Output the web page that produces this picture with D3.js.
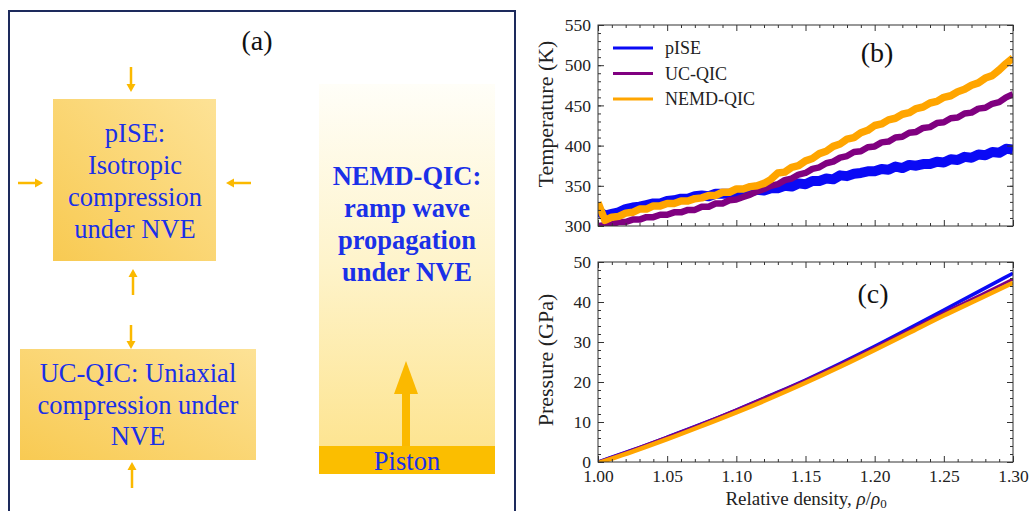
<!DOCTYPE html>
<html>
<head>
<meta charset="utf-8">
<script src="https://cdn.jsdelivr.net/npm/d3@7"></script>
<style>
    body { margin: 0; background: #fff; }
    svg { display: block; font-family: "Liberation Serif", "Times New Roman", serif; }
</style>
</head>
<body>
<div id="chart"></div>
<script>
// ---- data ----
// (b) temperature, sampled every 0.005 in relative density
const rhoT = [1.000, 1.005, 1.010, 1.015, 1.020, 1.025, 1.030, 1.035, 1.040, 1.045,
              1.050, 1.055, 1.060, 1.065, 1.070, 1.075, 1.080, 1.085, 1.090, 1.095,
              1.100, 1.105, 1.110, 1.115, 1.120, 1.125, 1.130, 1.135, 1.140, 1.145,
              1.150, 1.155, 1.160, 1.165, 1.170, 1.175, 1.180, 1.185, 1.190, 1.195,
              1.200, 1.205, 1.210, 1.215, 1.220, 1.225, 1.230, 1.235, 1.240, 1.245,
              1.250, 1.255, 1.260, 1.265, 1.270, 1.275, 1.280, 1.285, 1.290, 1.295, 1.300];
const tPISE = [319, 313, 315, 317, 321, 323, 324, 326, 328, 328,
               331, 332, 334, 334, 337, 338, 337, 340, 340, 340,
               342, 342, 343, 345, 344, 347, 347, 350, 349, 353,
               352, 356, 356, 359, 358, 363, 362, 365, 366, 368,
               368, 371, 370, 374, 372, 376, 375, 377, 377, 380,
               379, 383, 382, 386, 385, 389, 388, 392, 391, 396, 395];
const tUC   = [300, 301, 302, 305, 305, 308, 308, 311, 311, 314,
               314, 317, 317, 320, 320, 324, 324, 328, 328, 332,
               333, 336, 339, 343, 346, 350, 352, 357, 359, 364,
               366, 371, 373, 378, 380, 385, 387, 392, 393, 398,
               399, 404, 405, 410, 411, 416, 417, 422, 423, 428,
               429, 434, 435, 440, 441, 446, 447, 452, 454, 460, 464];
const tNEMD = [329, 307, 311, 312, 316, 317, 321, 321, 325, 325,
               328, 328, 331, 331, 334, 335, 338, 338, 342, 342,
               346, 346, 349, 350, 353, 358, 366, 367, 373, 375,
               381, 384, 390, 393, 399, 402, 408, 410, 416, 419,
               425, 427, 432, 434, 439, 441, 446, 448, 453, 455,
               460, 462, 467, 470, 475, 478, 484, 487, 494, 502, 509];

// (c) pressure, sampled every 0.025
const rhoP  = [1.000, 1.025, 1.05, 1.075, 1.10, 1.125, 1.15, 1.175, 1.20, 1.225, 1.25, 1.275, 1.30];
const pPISE = [0, 3.0, 6.2, 9.5, 13.0, 16.7, 20.5, 24.6, 28.9, 33.4, 38.0, 42.6, 47.2];
const pUC   = [0, 3.0, 6.2, 9.5, 13.0, 16.7, 20.4, 24.4, 28.6, 32.9, 37.3, 41.5, 45.7];
const pNEMD = [-0.3, 2.6, 5.7, 9.0, 12.4, 16.0, 19.8, 23.8, 28.0, 32.3, 36.6, 40.7, 44.8];

const seriesNames = ["pISE", "UC-QIC", "NEMD-QIC"];
const seriesColors = ["#0a0af5", "#800080", "#ffa500"];

const xTickVals = [1.00, 1.05, 1.10, 1.15, 1.20, 1.25, 1.30];
const tTickVals = [300, 350, 400, 450, 500, 550];
const pTickVals = [0, 10, 20, 30, 40, 50];

// ---- svg ----
const W = 1030, H = 511;
const svg = d3.select("#chart").append("svg")
    .attr("width", W)
    .attr("height", H);

const defs = svg.append("defs");
const g1 = defs.append("linearGradient").attr("id", "boxGrad")
    .attr("x1", 0).attr("y1", 1).attr("x2", 1).attr("y2", 0);
g1.append("stop").attr("offset", 0).attr("stop-color", "#f8ca52");
g1.append("stop").attr("offset", 1).attr("stop-color", "#fde296");
const g2 = defs.append("linearGradient").attr("id", "tallGrad")
    .attr("x1", 0).attr("y1", 0).attr("x2", 0).attr("y2", 1);
g2.append("stop").attr("offset", 0).attr("stop-color", "#fffef8");
g2.append("stop").attr("offset", 0.45).attr("stop-color", "#fef4cc");
g2.append("stop").attr("offset", 1).attr("stop-color", "#fde289");

// ---- panel (a): schematic ----
const pa = svg.append("g");
const gold = "#fbb900";
const txtBlue = "#1a30e8";

pa.append("rect")
    .attr("x", 9).attr("y", 11).attr("width", 506).attr("height", 520)
    .attr("fill", "none").attr("stroke", "#1d2a5c").attr("stroke-width", 2);

pa.append("text").attr("x", 257).attr("y", 50).attr("text-anchor", "middle")
    .attr("font-size", 28).attr("fill", "#111").text("(a)");

function arrow(x1, y1, x2, y2, shaft, headL, headW) {
    const dx = x2 - x1, dy = y2 - y1, len = Math.hypot(dx, dy);
    const ux = dx / len, uy = dy / len, nx = -uy, ny = ux;
    const bx = x2 - ux * headL, by = y2 - uy * headL;
    pa.append("line")
        .attr("x1", x1).attr("y1", y1).attr("x2", bx).attr("y2", by)
        .attr("stroke", gold).attr("stroke-width", shaft);
    pa.append("polygon")
        .attr("points", [[x2, y2], [bx + nx * headW / 2, by + ny * headW / 2], [bx - nx * headW / 2, by - ny * headW / 2]].join(" "))
        .attr("fill", gold);
}

// pISE box
pa.append("rect").attr("x", 53).attr("y", 99).attr("width", 163).attr("height", 162).attr("fill", "url(#boxGrad)");
["pISE:", "Isotropic", "compression", "under NVE"].forEach((s, i) => {
    pa.append("text").attr("x", 135).attr("y", 142 + i * 32).attr("text-anchor", "middle")
        .attr("font-size", 26.5).attr("fill", txtBlue).text(s);
});
arrow(131, 67, 131, 92, 2.5, 8, 9);
arrow(18, 183, 43, 183, 2.5, 8, 9);
arrow(251, 183, 226, 183, 2.5, 8, 9);
arrow(133, 295, 133, 269, 2.5, 8, 9);

// UC-QIC box
pa.append("rect").attr("x", 20).attr("y", 349).attr("width", 236).attr("height", 111).attr("fill", "url(#boxGrad)");
["UC-QIC: Uniaxial", "compression under", "NVE"].forEach((s, i) => {
    pa.append("text").attr("x", 138).attr("y", 382 + i * 31.5).attr("text-anchor", "middle")
        .attr("font-size", 26.5).attr("fill", txtBlue).text(s);
});
arrow(131, 325, 131, 349, 2.5, 8, 9);
arrow(132, 488, 132, 462, 2.5, 8, 9);

// NEMD-QIC column
pa.append("rect").attr("x", 319).attr("y", 84).attr("width", 176).attr("height", 390).attr("fill", "url(#tallGrad)");
pa.append("rect").attr("x", 319).attr("y", 446).attr("width", 176).attr("height", 28).attr("fill", "#fbbe00");
pa.append("text").attr("x", 407).attr("y", 470).attr("text-anchor", "middle")
    .attr("font-size", 26.5).attr("fill", txtBlue).text("Piston");
["NEMD-QIC:", "ramp wave", "propagation", "under NVE"].forEach((s, i) => {
    pa.append("text").attr("x", 407).attr("y", 185 + i * 32).attr("text-anchor", "middle")
        .attr("font-size", 26.5).attr("font-weight", "bold").attr("fill", txtBlue).text(s);
});
arrow(406, 446, 406, 361, 8, 33, 24);

// ---- panels (b) and (c) ----
const x = d3.scaleLinear().domain([1.0, 1.3]).range([598, 1013]);
const yT = d3.scaleLinear().domain([300, 550]).range([226, 25]);
const yP = d3.scaleLinear().domain([0, 50]).range([462, 262]);

const xMinor = d3.range(0, 31).filter(i => i % 5 !== 0).map(i => 1 + i / 100);
const axisColor = "#333";

function drawFrame(y, majorY, minorY, showX) {
    const [bottom, top] = y.range();
    const g = svg.append("g");

    const styleAxis = sel => {
        sel.select(".domain").remove();
        sel.selectAll("line").attr("stroke", axisColor);
        sel.selectAll("text").attr("fill", "#222").attr("font-size", 17.5)
            .attr("font-family", "Liberation Serif, serif");
    };

    // bottom
    g.append("g").attr("transform", `translate(0,${bottom})`)
        .call(d3.axisBottom(x).tickValues(xTickVals).tickSizeInner(-6).tickSizeOuter(0).tickPadding(8)
            .tickFormat(showX ? d3.format(".2f") : ""))
        .call(styleAxis);
    g.append("g").attr("transform", `translate(0,${bottom})`)
        .call(d3.axisBottom(x).tickValues(xMinor).tickSizeInner(-3).tickSizeOuter(0).tickFormat(""))
        .call(styleAxis);
    // top
    g.append("g").attr("transform", `translate(0,${top})`)
        .call(d3.axisTop(x).tickValues(xTickVals).tickSizeInner(-6).tickSizeOuter(0).tickFormat(""))
        .call(styleAxis);
    g.append("g").attr("transform", `translate(0,${top})`)
        .call(d3.axisTop(x).tickValues(xMinor).tickSizeInner(-3).tickSizeOuter(0).tickFormat(""))
        .call(styleAxis);
    // left
    g.append("g").attr("transform", `translate(${x.range()[0]},0)`)
        .call(d3.axisLeft(y).tickValues(majorY).tickSizeInner(-6).tickSizeOuter(0).tickPadding(7))
        .call(styleAxis);
    g.append("g").attr("transform", `translate(${x.range()[0]},0)`)
        .call(d3.axisLeft(y).tickValues(minorY).tickSizeInner(-3).tickSizeOuter(0).tickFormat(""))
        .call(styleAxis);
    // right
    g.append("g").attr("transform", `translate(${x.range()[1]},0)`)
        .call(d3.axisRight(y).tickValues(majorY).tickSizeInner(-6).tickSizeOuter(0).tickFormat(""))
        .call(styleAxis);
    g.append("g").attr("transform", `translate(${x.range()[1]},0)`)
        .call(d3.axisRight(y).tickValues(minorY).tickSizeInner(-3).tickSizeOuter(0).tickFormat(""))
        .call(styleAxis);

    g.append("rect")
        .attr("x", x.range()[0]).attr("y", top)
        .attr("width", x.range()[1] - x.range()[0]).attr("height", bottom - top)
        .attr("fill", "none").attr("stroke", axisColor).attr("stroke-width", 1);
    return g;
}

// clip paths
defs.append("clipPath").attr("id", "clipB").append("rect")
    .attr("x", 598).attr("y", 25).attr("width", 415).attr("height", 201);
defs.append("clipPath").attr("id", "clipC").append("rect")
    .attr("x", 598).attr("y", 262).attr("width", 415).attr("height", 200);

// (b) temperature
const lineT = d3.line().x(d => x(d[0])).y(d => yT(d[1]));
const gb = svg.append("g").attr("clip-path", "url(#clipB)");
const tSeries = [tPISE, tUC, tNEMD];
const tWidths = [10, 6.5, 7.5];
tSeries.forEach((vals, i) => {
    gb.append("path")
        .datum(d3.zip(rhoT, vals))
        .attr("d", lineT)
        .attr("fill", "none")
        .attr("stroke", seriesColors[i])
        .attr("stroke-width", tWidths[i])
        .attr("stroke-linejoin", "round");
});
drawFrame(yT, tTickVals, d3.range(300, 551, 10), false);

// (c) pressure
const lineP = d3.line().x(d => x(d[0])).y(d => yP(d[1])).curve(d3.curveMonotoneX);
const gc = svg.append("g").attr("clip-path", "url(#clipC)");
const pSeries = [pPISE, pUC, pNEMD];
const pWidths = [3.5, 3, 4.5];
pSeries.forEach((vals, i) => {
    gc.append("path")
        .datum(d3.zip(rhoP, vals))
        .attr("d", lineP)
        .attr("fill", "none")
        .attr("stroke", seriesColors[i])
        .attr("stroke-width", pWidths[i]);
});
drawFrame(yP, pTickVals, d3.range(0, 51, 2), true);

// legend
const leg = svg.append("g");
seriesNames.forEach((name, i) => {
    const ly = 48 + i * 25.5;
    leg.append("line").attr("x1", 613).attr("x2", 653).attr("y1", ly).attr("y2", ly)
        .attr("stroke", seriesColors[i]).attr("stroke-width", 3);
    leg.append("text").attr("x", 665).attr("y", ly + 6)
        .attr("font-size", 18).attr("fill", "#222").text(name);
});

// panel labels
svg.append("text").attr("x", 877).attr("y", 62).attr("text-anchor", "middle")
    .attr("font-size", 28).attr("fill", "#111").text("(b)");
svg.append("text").attr("x", 873).attr("y", 303).attr("text-anchor", "middle")
    .attr("font-size", 28).attr("fill", "#111").text("(c)");

// axis titles
svg.append("text")
    .attr("transform", "translate(553,114) rotate(-90)")
    .attr("text-anchor", "middle").attr("font-size", 22).attr("fill", "#222")
    .text("Temperature (K)");
svg.append("text")
    .attr("transform", "translate(553,360) rotate(-90)")
    .attr("text-anchor", "middle").attr("font-size", 22).attr("fill", "#222")
    .text("Pressure (GPa)");
const xl = svg.append("text")
    .attr("x", 806).attr("y", 505)
    .attr("text-anchor", "middle").attr("font-size", 19).attr("fill", "#222");
xl.append("tspan").text("Relative density, ");
xl.append("tspan").attr("font-style", "italic").text("ρ");
xl.append("tspan").text("/");
xl.append("tspan").attr("font-style", "italic").text("ρ");
xl.append("tspan").attr("font-size", 13).attr("dy", 3).text("0");
</script>
</body>
</html>
